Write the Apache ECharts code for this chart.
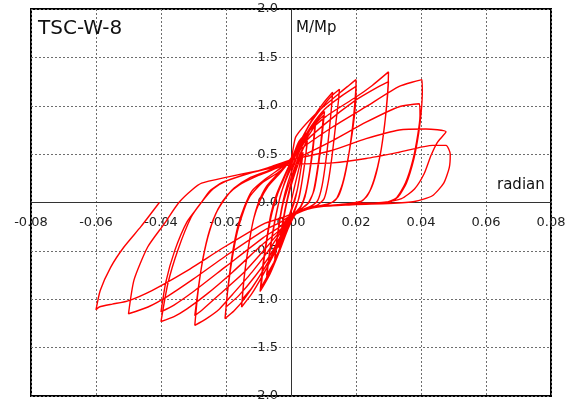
<!DOCTYPE html>
<html>
<head>
<meta charset="utf-8">
<script src="https://cdn.jsdelivr.net/npm/echarts@6/dist/echarts.min.js"></script>
<style>
html,body{margin:0;padding:0;background:#fff;}
#chart{width:570px;height:403px;}
</style>
</head>
<body>
<div id="chart"></div>
<script>
// axis ranges / ticks
const xMin = -0.08, xMax = 0.08, xStep = 0.02;
const yMin = -2.0, yMax = 2.0, yStep = 0.5;
const titleText = "TSC-W-8";
const yName = "M/Mp";
const xName = "radian";

// hysteresis path, [rotation (radian), M/Mp], in loading order
const cyclesSmall = [
  [0,0],[0.0012,0.18],[0.0025,0.36],[0.0036,0.50],
  [0.0031,0.36],[0.002,0.14],[0.001,0.0],[0.0,-0.1],[-0.0012,-0.24],[-0.0025,-0.37],[-0.0036,-0.46],
  [-0.003,-0.32],[-0.002,-0.12],[-0.001,0.04],[0.0,0.17],[0.0012,0.3],[0.0025,0.42],[0.0037,0.52],
  [0.0032,0.38],[0.002,0.14],[0.0008,0.0],[-0.0004,-0.12],[-0.0015,-0.26],[-0.0027,-0.38],[-0.0037,-0.47],
  [-0.0031,-0.32],[-0.002,-0.1],[-0.001,0.06],[0.0,0.2],[0.0015,0.36],[0.003,0.5],[0.0042,0.59],[0.005,0.64],
  [0.0045,0.48],[0.0035,0.24],[0.0024,0.04],[0.001,-0.08],[-0.0005,-0.2],[-0.002,-0.35],[-0.0035,-0.5],[-0.005,-0.6],
  [-0.0045,-0.44],[-0.0035,-0.2],[-0.0025,-0.02],[-0.001,0.15],[0.0005,0.3],[0.002,0.44],[0.0035,0.55],[0.005,0.62],
  [0.0044,0.45],[0.0033,0.2],[0.0022,0.02],[0.001,-0.1],[-0.0005,-0.22],[-0.002,-0.36],[-0.0035,-0.49],[-0.005,-0.58]
];
const cycles0075 = [
  [-0.0044,-0.4],[-0.0034,-0.16],[-0.0024,0.02],[-0.001,0.2],[0.0008,0.38],[0.0025,0.52],[0.0045,0.66],[0.006,0.76],[0.0075,0.84],
  [0.0068,0.6],[0.0057,0.32],[0.0045,0.1],[0.003,-0.04],[0.001,-0.12],[-0.001,-0.26],[-0.003,-0.44],[-0.0053,-0.62],[-0.0075,-0.78],
  [-0.0068,-0.58],[-0.0056,-0.32],[-0.0044,-0.1],[-0.003,0.1],[-0.001,0.28],[0.001,0.42],[0.003,0.56],[0.0052,0.68],[0.0075,0.80],
  [0.0068,0.56],[0.0056,0.28],[0.0043,0.06],[0.0028,-0.06],[0.001,-0.13],[-0.001,-0.27],[-0.003,-0.45],[-0.0053,-0.62],[-0.0075,-0.75]
];
const cycles010 = [
  [-0.0067,-0.54],[-0.0055,-0.28],[-0.0042,-0.06],[-0.0028,0.12],[-0.001,0.3],[0.001,0.46],[0.0035,0.62],[0.006,0.76],[0.0085,0.87],[0.0103,0.94],
  [0.0096,0.7],[0.0085,0.4],[0.0072,0.14],[0.0055,0.0],[0.003,-0.07],[0.001,-0.14],[-0.001,-0.28],[-0.0035,-0.5],[-0.0065,-0.74],[-0.0095,-0.92],
  [-0.0087,-0.66],[-0.0075,-0.38],[-0.0062,-0.12],[-0.0045,0.08],[-0.0025,0.24],[0.0,0.42],[0.003,0.6],[0.0065,0.78],[0.01,0.9],
  [0.0093,0.66],[0.0082,0.36],[0.0068,0.1],[0.005,-0.02],[0.0025,-0.08],[0.0005,-0.15],[-0.0015,-0.3],[-0.004,-0.52],[-0.0068,-0.73],[-0.0092,-0.88]
];
const cycles015 = [
  [-0.0084,-0.62],[-0.0072,-0.34],[-0.0058,-0.1],[-0.004,0.1],[-0.002,0.26],[0.0,0.42],[0.0025,0.6],[0.006,0.82],[0.0095,0.98],[0.0125,1.1],[0.0149,1.17],
  [0.0146,1.05],[0.0138,0.82],[0.0127,0.5],[0.0115,0.22],[0.0102,0.04],[0.008,-0.03],[0.005,-0.06],[0.002,-0.1],[0.0,-0.16],[-0.002,-0.3],[-0.005,-0.52],[-0.0085,-0.74],[-0.012,-0.94],[-0.0152,-1.08],
  [-0.0145,-0.8],[-0.0132,-0.48],[-0.0117,-0.2],[-0.01,0.0],[-0.0075,0.17],[-0.004,0.3],[0.0,0.45],[0.003,0.64],[0.0065,0.86],[0.01,1.03],[0.0128,1.14],
  [0.0125,1.0],[0.0118,0.75],[0.0108,0.45],[0.0096,0.18],[0.0082,0.02],[0.006,-0.04],[0.003,-0.08],[0.0005,-0.14],[-0.002,-0.3],[-0.005,-0.5],[-0.0085,-0.7],[-0.012,-0.88],[-0.015,-1.0]
];
const cycles020 = [
  [-0.0143,-0.74],[-0.013,-0.44],[-0.0115,-0.17],[-0.0095,0.02],[-0.007,0.17],[-0.0035,0.3],[0.0,0.45],[0.0015,0.68],[0.0077,0.92],[0.0149,1.13],[0.0178,1.21],[0.02,1.27],
  [0.02,1.16],[0.0195,0.89],[0.018,0.54],[0.0159,0.2],[0.0138,0.03],[0.011,-0.02],[0.007,-0.05],[0.003,-0.09],[0.0,-0.16],[-0.0025,-0.32],[-0.006,-0.55],[-0.01,-0.78],[-0.014,-0.98],[-0.0175,-1.12],[-0.0203,-1.2],
  [-0.0195,-0.92],[-0.0182,-0.6],[-0.0165,-0.3],[-0.0145,-0.08],[-0.0125,0.07],[-0.009,0.2],[-0.004,0.31],[0.0,0.43],[0.0025,0.58],[0.006,0.78],[0.0105,0.97],[0.0155,1.1],[0.02,1.2],
  [0.0197,1.05],[0.019,0.8],[0.0178,0.5],[0.0163,0.24],[0.0145,0.06],[0.012,-0.01],[0.008,-0.04],[0.004,-0.08],[0.0,-0.15],[-0.0025,-0.3],[-0.006,-0.52],[-0.011,-0.76],[-0.016,-0.96],[-0.02,-1.08]
];
const cycles030 = [
  [-0.0192,-0.82],[-0.018,-0.52],[-0.0163,-0.24],[-0.0143,-0.04],[-0.012,0.12],[-0.008,0.24],[-0.003,0.36],[0.0,0.44],[0.0026,0.64],[0.0108,0.89],[0.02,1.09],[0.025,1.21],[0.03,1.35],
  [0.0299,1.23],[0.0296,1.08],[0.0288,0.8],[0.0275,0.5],[0.0256,0.24],[0.0235,0.07],[0.021,0.0],[0.016,-0.02],[0.01,-0.04],[0.005,-0.07],[0.0,-0.15],[-0.003,-0.3],[-0.007,-0.5],[-0.012,-0.72],[-0.018,-0.95],[-0.022,-1.1],[-0.026,-1.2],[-0.0296,-1.27],
  [-0.0288,-0.98],[-0.0275,-0.66],[-0.0256,-0.36],[-0.0232,-0.12],[-0.0205,0.03],[-0.0175,0.15],[-0.013,0.25],[-0.007,0.33],[-0.001,0.42],[0.0026,0.57],[0.01,0.8],[0.02,1.06],[0.026,1.18],[0.03,1.25],
  [0.0297,1.1],[0.029,0.86],[0.0278,0.56],[0.0262,0.3],[0.0243,0.12],[0.022,0.02],[0.018,-0.01],[0.012,-0.03],[0.006,-0.06],[0.0,-0.14],[-0.003,-0.28],[-0.008,-0.48],[-0.015,-0.74],[-0.022,-0.95],[-0.027,-1.1],[-0.0296,-1.17]
];
const cycles040 = [
  [-0.0285,-0.88],[-0.027,-0.56],[-0.025,-0.28],[-0.0225,-0.07],[-0.0195,0.08],[-0.016,0.18],[-0.01,0.28],[-0.004,0.36],[0.0,0.42],[0.0026,0.54],[0.0128,0.78],[0.0231,0.99],[0.0333,1.2],[0.0403,1.27],
  [0.0404,1.15],[0.0401,0.95],[0.0393,0.72],[0.0378,0.45],[0.0355,0.2],[0.033,0.06],[0.03,0.0],[0.02,-0.01],[0.012,-0.03],[0.005,-0.07],[0.0,-0.14],[-0.003,-0.27],[-0.009,-0.44],[-0.018,-0.72],[-0.026,-0.95],[-0.032,-1.1],[-0.036,-1.18],[-0.04,-1.23],
  [-0.0379,-0.84],[-0.0348,-0.49],[-0.0307,-0.15],[-0.0276,0.0],[-0.024,0.14],[-0.02,0.22],[-0.013,0.3],[-0.006,0.36],[-0.001,0.42],[0.0026,0.47],[0.0128,0.64],[0.0231,0.83],[0.0333,0.99],[0.0395,1.02],
  [0.0397,0.9],[0.039,0.7],[0.0375,0.44],[0.0352,0.2],[0.0325,0.05],[0.029,0.0],[0.02,-0.01],[0.012,-0.03],[0.005,-0.07],[0.0,-0.13],[-0.003,-0.24],[-0.0084,-0.36],[-0.02,-0.66],[-0.03,-0.92],[-0.036,-1.06],[-0.04,-1.13]
];
const cycles050 = [
  [-0.0385,-0.82],[-0.0358,-0.5],[-0.032,-0.2],[-0.028,-0.02],[-0.025,0.12],[-0.021,0.21],[-0.014,0.29],[-0.007,0.36],[0.0,0.44],[0.0128,0.54],[0.0231,0.66],[0.0333,0.75],[0.0415,0.76],[0.0477,0.73],
  [0.045,0.62],[0.043,0.48],[0.041,0.3],[0.038,0.14],[0.034,0.04],[0.028,0.0],[0.02,-0.02],[0.01,-0.04],[0.004,-0.07],[0.0,-0.13],[-0.003,-0.2],[-0.0084,-0.29],[-0.02,-0.55],[-0.03,-0.79],[-0.038,-0.97],[-0.044,-1.08],[-0.05,-1.15],
  [-0.0483,-0.8],[-0.0441,-0.46],[-0.039,-0.22],[-0.0345,0.0],[-0.0305,0.13],[-0.0275,0.2],[-0.02,0.26],[-0.01,0.33],[0.0,0.39],[0.0128,0.41],[0.0231,0.455],[0.0333,0.52],[0.0436,0.59],[0.0477,0.59],
  [0.049,0.5],[0.0487,0.36],[0.047,0.2],[0.0435,0.07],[0.038,0.01],[0.03,-0.01],[0.02,-0.02],[0.01,-0.04],[0.004,-0.07],[0.0,-0.12],[-0.003,-0.16],[-0.0084,-0.22],[-0.0205,-0.46],[-0.0327,-0.72],[-0.0428,-0.91],[-0.0504,-1.02]
];
const finalBranch = [
  [-0.055,-1.05],[-0.059,-1.08],[-0.06,-1.11],
  [-0.0587,-0.91],[-0.0555,-0.67],[-0.0514,-0.46],[-0.0462,-0.25],[-0.0405,0.0]
];

const pathData = [].concat(cyclesSmall, cycles0075, cycles010, cycles015, cycles020, cycles030, cycles040, cycles050, finalBranch);

const fmt = (d) => (v) => (Math.abs(v) < 1e-9 ? 0 : v).toFixed(d);
const FONT = "DejaVu Sans";

// plot box (pixels)
const G = {left: 31, right: 19, top: 9, bottom: 7};
const W = 570 - G.left - G.right, H = 403 - G.top - G.bottom;

const chart = echarts.init(document.getElementById('chart'), null, {renderer: 'canvas'});
chart.setOption({
  animation: false,
  backgroundColor: '#fff',
  grid: {left: G.left, right: G.right, top: G.top, bottom: G.bottom, show: true, borderColor: '#000', borderWidth: 2, containLabel: false, outerBoundsMode: 'none'},
  xAxis: {
    type: 'value', min: xMin, max: xMax, interval: xStep,
    position: 'bottom', offset: -H / 2,
    axisLine: {onZero: false, lineStyle: {color: '#333', width: 1}},
    axisTick: {show: false},
    axisLabel: {formatter: fmt(2), color: '#222', fontSize: 13, fontFamily: FONT, margin: 14, showMinLabel: true, showMaxLabel: true, hideOverlap: false},
    splitLine: {show: true, lineStyle: {type: [2, 2], color: '#6e6e6e', width: 1}}
  },
  yAxis: {
    type: 'value', min: yMin, max: yMax, interval: yStep,
    position: 'left', offset: -W / 2,
    axisLine: {onZero: false, lineStyle: {color: '#333', width: 1}},
    axisTick: {show: false},
    axisLabel: {formatter: fmt(1), color: '#222', fontSize: 13, fontFamily: FONT, margin: 13, showMinLabel: true, showMaxLabel: true, hideOverlap: false},
    splitLine: {show: true, lineStyle: {type: [2, 2], color: '#6e6e6e', width: 1}}
  },
  graphic: [
    {type: 'text', x: 38, y: 29, z: 100, style: {text: titleText, font: '20px "' + FONT + '"', fill: '#111', verticalAlign: 'middle'}},
    {type: 'text', x: 296, y: 28, z: 100, style: {text: yName, font: '15px "' + FONT + '"', fill: '#111', verticalAlign: 'middle'}},
    {type: 'text', x: 497, y: 185, z: 100, style: {text: xName, font: '15px "' + FONT + '"', fill: '#111', verticalAlign: 'middle'}}
  ],
  series: [{
    type: 'line',
    data: pathData,
    showSymbol: false,
    smooth: 0.2,
    clip: true,
    lineStyle: {color: '#ff0000', width: 1.4}
  }]
});
</script>
</body>
</html>
